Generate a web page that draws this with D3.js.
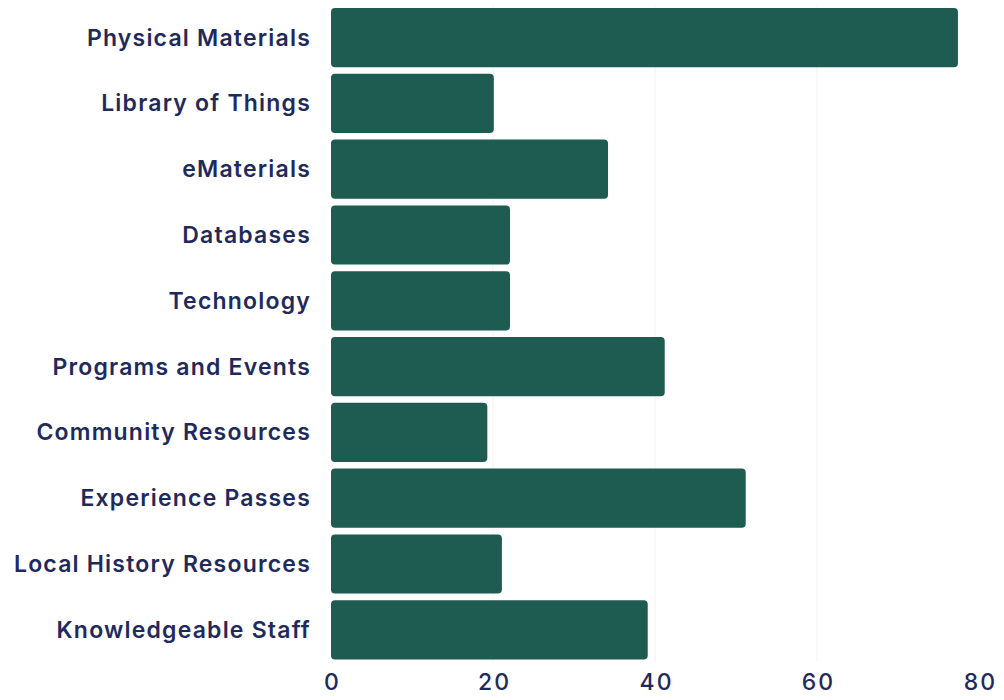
<!DOCTYPE html>
<html>
<head>
<meta charset="utf-8">
<script src="https://cdn.jsdelivr.net/npm/d3@7"></script>
<style>
  body { margin: 0; background: #fff; }
  .label { font-family: Inter, "Noto Sans", sans-serif; font-weight: 600; fill: #1f2a5c; letter-spacing: 1.2px; }
  .tick text { font-family: Inter, "Noto Sans", sans-serif; font-weight: 500; fill: #1f2a5c; letter-spacing: 2px; }
</style>
</head>
<body>
<script>
let categories = ['Physical Materials', 'Library of Things', 'eMaterials', 'Databases', 'Technology',
  'Programs and Events', 'Community Resources', 'Experience Passes', 'Local History Resources', 'Knowledgeable Staff']
let values = [77.4, 20.1, 34.2, 22.1, 22.1, 41.2, 19.3, 51.2, 21.1, 39.1]
let xTicks = [0, 20, 40, 60, 80]

let width = 1004
let height = 700

let svg = d3.select('body').append('svg')
  .attr('width', width)
  .attr('height', height)

let xScale = d3.scaleLinear().domain([0, 80]).range([331, 979])
let yScale = d3.scaleBand().domain(categories).range([4.7, 662.7])
  .paddingInner(0.1).paddingOuter(0.05)

// faint grid
svg.append('g')
  .selectAll('line')
  .data(xTicks.slice(1, 4))
  .enter()
  .append('line')
  .attr('x1', d => xScale(d))
  .attr('x2', d => xScale(d))
  .attr('y1', yScale.range()[0])
  .attr('y2', yScale.range()[1])
  .attr('stroke', '#f2f2f2')

svg.selectAll('.bar')
  .data(values)
  .enter()
  .append('rect')
  .attr('class', 'bar')
  .attr('x', xScale(0))
  .attr('y', (d, i) => yScale(categories[i]))
  .attr('width', d => xScale(d) - xScale(0))
  .attr('height', yScale.bandwidth())
  .attr('rx', 4)
  .attr('fill', '#1e5b50')

svg.selectAll('.label')
  .data(categories)
  .enter()
  .append('text')
  .attr('class', 'label')
  .attr('x', 311)
  .attr('y', d => yScale(d) + yScale.bandwidth() / 2)
  .attr('dy', '0.35em')
  .attr('text-anchor', 'end')
  .style('font-size', '23px')
  .text(d => d)

let xAxis = d3.axisBottom(xScale).tickValues(xTicks).tickSize(0).tickPadding(0)
let gx = svg.append('g')
  .attr('transform', 'translate(1, 674)')
  .call(xAxis)
gx.select('.domain').remove()
gx.selectAll('text').style('font-size', '23px').attr('dy', '0.71em')
</script>
</body>
</html>
